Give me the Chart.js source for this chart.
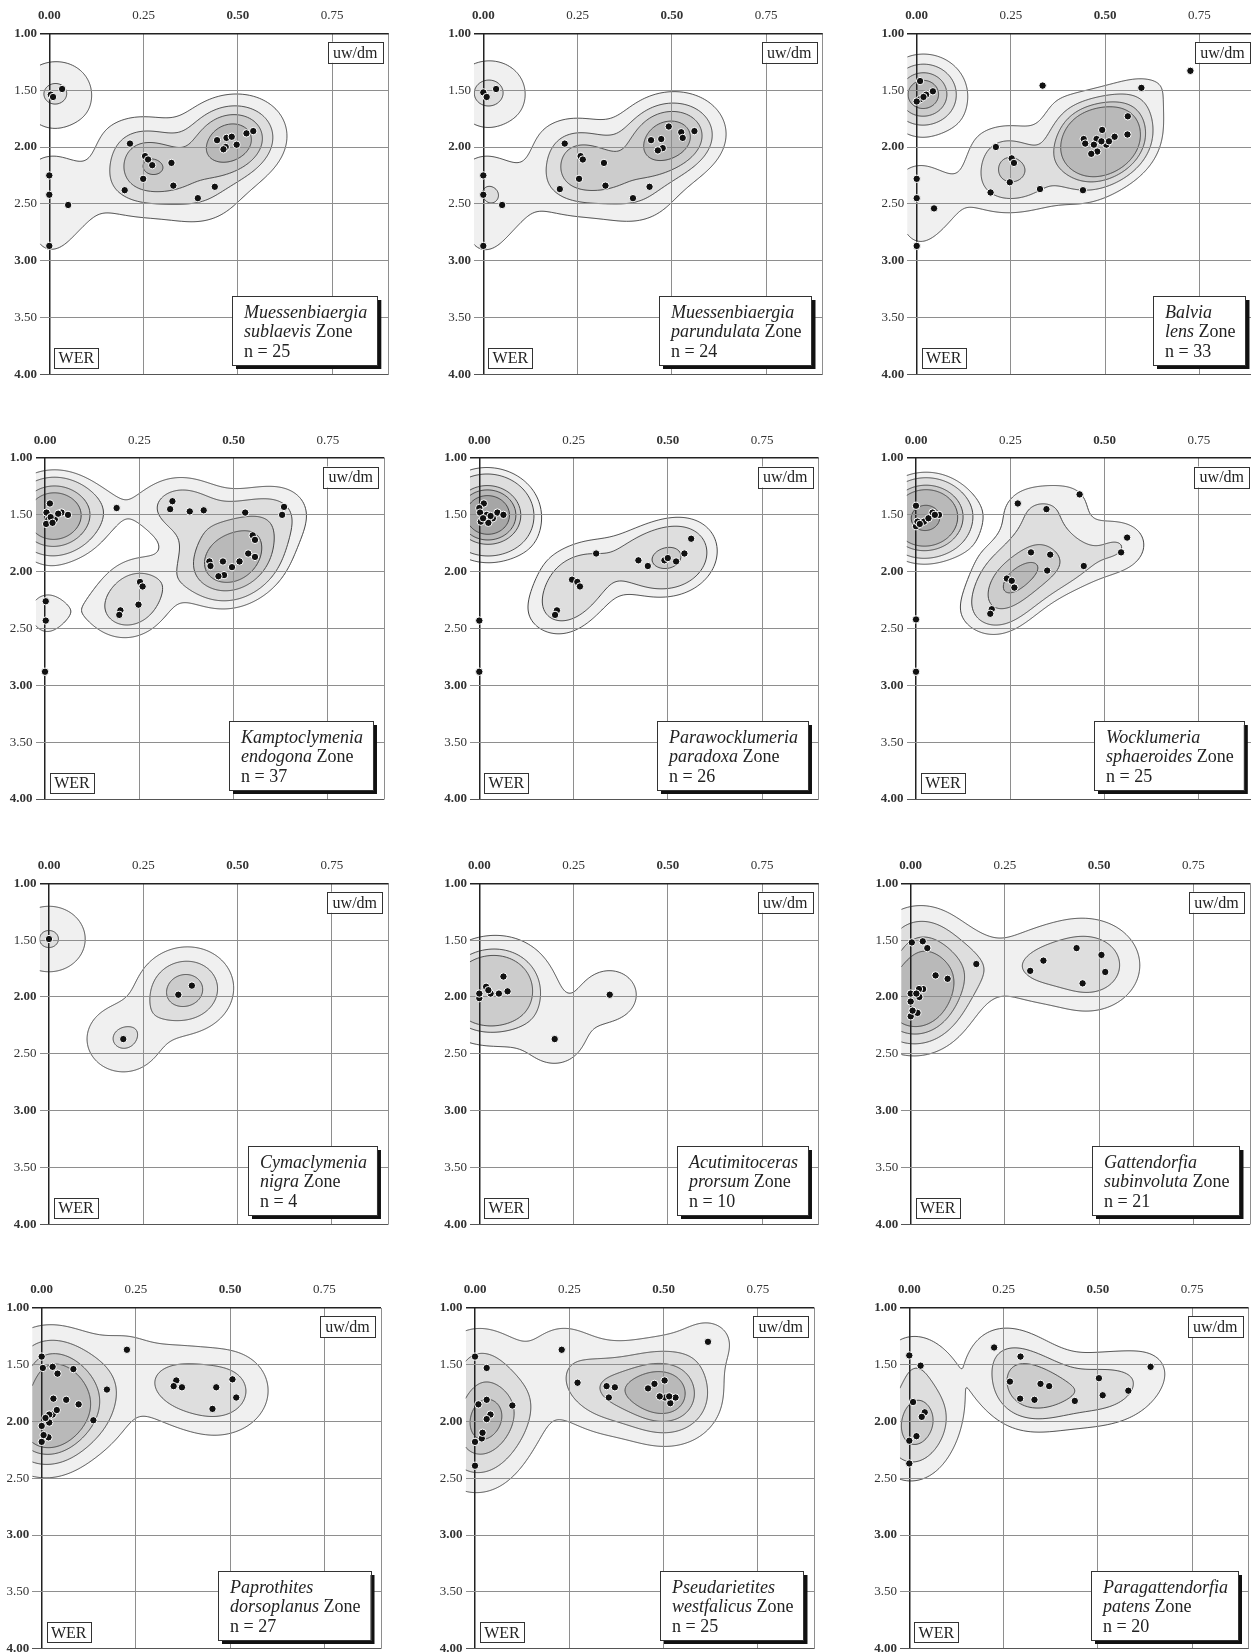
<!DOCTYPE html>
<html>
<head>
<meta charset="utf-8">
<title>uw/dm - WER density plots by zone</title>
<script src="https://cdn.jsdelivr.net/npm/chart.js@4.4.1/dist/chart.umd.min.js"></script>
<style>
  html, body { margin: 0; padding: 0; background: #fff; overflow: hidden; }
  body { width: 1251px; height: 1652px; position: relative; }
  canvas { position: absolute; }
</style>
</head>
<body>
<script>
// axis ticks
const xTicks = [0, 0.25, 0.5, 0.75];
const yTicks = [1, 1.5, 2, 2.5, 3, 3.5, 4];
const xName = 'uw/dm';
const yName = 'WER';

// zone labels
const genera = ['Muessenbiaergia', 'Muessenbiaergia', 'Balvia', 'Kamptoclymenia', 'Parawocklumeria', 'Wocklumeria',
  'Cymaclymenia', 'Acutimitoceras', 'Gattendorfia', 'Paprothites', 'Pseudarietites', 'Paragattendorfia'];
const species = ['sublaevis', 'parundulata', 'lens', 'endogona', 'paradoxa', 'sphaeroides',
  'nigra', 'prorsum', 'subinvoluta', 'dorsoplanus', 'westfalicus', 'patens'];
const sampleSizes = [25, 24, 33, 37, 26, 25, 4, 10, 21, 27, 25, 20];

// measured specimens [uw/dm, WER]
const sublaevis = [[0.004,1.54],[0.01,1.56],[0.034,1.49],[0,2.25],[0,2.42],[0.05,2.51],[0,2.87],[0.214,1.97],
  [0.254,2.08],[0.262,2.11],[0.273,2.16],[0.249,2.28],[0.324,2.14],[0.329,2.34],[0.2,2.38],[0.394,2.45],[0.439,2.35],
  [0.445,1.94],[0.47,1.92],[0.484,1.91],[0.468,2.0],[0.462,2.02],[0.497,1.98],[0.523,1.88],[0.541,1.86]];
const parundulata = [[0,1.52],[0.009,1.56],[0.034,1.49],[0,2.25],[0,2.42],[0.05,2.51],[0,2.87],[0.216,1.97],
  [0.258,2.08],[0.264,2.11],[0.32,2.14],[0.254,2.28],[0.324,2.34],[0.203,2.37],[0.397,2.45],[0.441,2.35],
  [0.445,1.94],[0.472,1.93],[0.492,1.82],[0.476,2.01],[0.463,2.03],[0.525,1.87],[0.529,1.92],[0.56,1.86]];
const lens = [[0.009,1.42],[0.043,1.51],[0.025,1.54],[0.009,1.58],[0,1.6],[0.018,1.56],
  [0.334,1.46],[0.726,1.33],[0.596,1.48],[0.56,1.73],[0.559,1.89],[0.492,1.85],[0.525,1.91],[0.443,1.93],
  [0.447,1.97],[0.477,1.93],[0.503,1.98],[0.479,2.04],[0.463,2.06],[0.49,1.95],[0.51,1.95],[0.47,1.98],
  [0.441,2.38],[0.21,2.0],[0.252,2.1],[0.258,2.14],[0.247,2.31],[0.196,2.4],[0.327,2.37],
  [0,2.28],[0,2.45],[0.046,2.54],[0,2.87]];
const endogona = [[0.013,1.4],[0.004,1.48],[0.009,1.54],[0.026,1.54],[0.044,1.48],[0.061,1.5],[0.003,1.58],
  [0.035,1.49],[0.015,1.52],[0.02,1.57],[0.19,1.44],[0.338,1.38],[0.332,1.45],[0.384,1.47],[0.421,1.46],
  [0.531,1.48],[0.634,1.43],[0.629,1.5],[0.551,1.68],[0.557,1.72],[0.539,1.84],[0.557,1.87],[0.516,1.91],
  [0.496,1.96],[0.472,1.91],[0.436,1.91],[0.439,1.95],[0.475,2.03],[0.46,2.04],[0.252,2.09],[0.259,2.13],
  [0.248,2.29],[0.2,2.34],[0.197,2.38],[0.002,2.26],[0.002,2.43],[0,2.88]];
const paradoxa = [[0.012,1.4],[0,1.44],[0.002,1.48],[0.048,1.48],[0.064,1.5],[0.036,1.53],[0.024,1.57],
  [0.004,1.56],[0.02,1.5],[0.01,1.53],[0.03,1.51],[0,2.43],[0,2.88],[0.31,1.84],[0.246,2.07],[0.26,2.09],
  [0.267,2.13],[0.206,2.34],[0.201,2.38],[0.422,1.9],[0.447,1.95],[0.491,1.9],[0.522,1.91],[0.544,1.84],
  [0.562,1.71],[0.5,1.88]];
const sphaeroides = [[0,1.42],[0,1.6],[0.004,1.56],[0.021,1.56],[0.033,1.53],[0.044,1.48],[0.061,1.5],
  [0.01,1.58],[0.05,1.5],[0,2.42],[0,2.88],[0.27,1.4],[0.346,1.45],[0.434,1.32],[0.56,1.7],[0.544,1.83],
  [0.445,1.95],[0.305,1.83],[0.356,1.85],[0.348,1.99],[0.241,2.06],[0.254,2.08],[0.261,2.14],[0.201,2.33],
  [0.197,2.37]];
const nigra = [[0,1.49],[0.343,1.98],[0.379,1.9],[0.197,2.37]];
const prorsum = [[0,2.01],[0.018,1.91],[0.03,1.97],[0.052,1.97],[0.064,1.82],[0.075,1.95],[0.024,1.94],
  [0,1.97],[0.2,2.37],[0.346,1.98]];
const subinvoluta = [[0.003,1.52],[0.032,1.51],[0.044,1.57],[0.174,1.71],[0.066,1.81],[0.098,1.84],[0.033,1.93],
  [0.022,1.93],[0,1.97],[0.023,2.0],[0,2.04],[0.018,2.14],[0,2.17],[0.005,2.12],[0.015,1.97],[0.317,1.77],
  [0.352,1.68],[0.44,1.57],[0.506,1.63],[0.516,1.78],[0.456,1.88]];
const dorsoplanus = [[0,1.43],[0.003,1.53],[0.029,1.52],[0.042,1.58],[0.084,1.54],[0.226,1.37],[0.173,1.72],
  [0.031,1.8],[0.065,1.81],[0.098,1.85],[0.029,1.94],[0.02,1.94],[0.137,1.99],[0.02,2.01],[0,2.04],[0.018,2.14],
  [0,2.18],[0.005,2.12],[0.01,1.97],[0.04,1.9],[0.357,1.64],[0.35,1.69],[0.372,1.7],[0.463,1.7],[0.506,1.63],
  [0.516,1.79],[0.453,1.89]];
const westfalicus = [[0,1.43],[0.031,1.53],[0.272,1.66],[0.23,1.37],[0.618,1.3],[0.009,1.85],[0.031,1.81],
  [0.099,1.86],[0.041,1.94],[0.031,1.98],[0.018,2.15],[0,2.18],[0,2.39],[0.02,2.1],[0.349,1.69],[0.371,1.7],
  [0.355,1.79],[0.459,1.71],[0.476,1.67],[0.503,1.64],[0.504,1.79],[0.518,1.84],[0.532,1.79],[0.49,1.78],
  [0.515,1.78]];
const patens = [[0,1.42],[0.03,1.51],[0.01,1.83],[0.041,1.92],[0.033,1.96],[0.019,2.13],[0,2.17],[0,2.37],
  [0.225,1.35],[0.295,1.43],[0.267,1.65],[0.294,1.8],[0.332,1.81],[0.348,1.67],[0.371,1.69],[0.439,1.82],
  [0.503,1.62],[0.513,1.77],[0.581,1.73],[0.64,1.52]];

// a spot on each density contour line [uw/dm, WER]
const sublaevisLines = [[0.112,1.52],[0.161,2.17],[0.198,2.17],[0.417,2.03]];
const parundulataLines = [[0.111,1.53],[0.167,2.23],[0.208,2.23],[0.427,2.03]];
const lensLines = [[0.3,2.56],[0.105,1.54],[0.08,1.54],[0.058,1.54]];
const endogonaLines = [[0.215,2.58],[0.35,1.97],[0.395,1.97],[0.425,1.97]];
const paradoxaLines = [[0.165,1.5],[0.171,2.17],[0.11,1.5],[0.097,1.5],[0.08,1.5]];
const sphaeroidesLines = [[0.126,2.17],[0.152,2.17],[0.192,2.17],[0.237,2.07],[0.062,1.5]];
const nigraLines = [[0.096,1.49],[0.025,1.49],[0.312,1.97]];
const prorsumLines = [[0.415,1.94],[0.162,2.0],[0.14,2.0]];
const subinvolutaLines = [[0.05,2.5],[0.05,2.39],[0.05,2.3],[0.05,2.23]];
const dorsoplanusLines = [[0.05,2.48],[0.05,2.36],[0.05,2.27],[0.05,2.21]];
const westfalicusLines = [[0.5,2.22],[0.5,2.1],[0.5,2.0],[0.5,1.93]];
const patensLines = [[0.146,1.9],[0.096,1.9],[0.063,1.98]];

const zonePoints = [sublaevis, parundulata, lens, endogona, paradoxa, sphaeroides,
  nigra, prorsum, subinvoluta, dorsoplanus, westfalicus, patens];
const zoneLines = [sublaevisLines, parundulataLines, lensLines, endogonaLines, paradoxaLines, sphaeroidesLines,
  nigraLines, prorsumLines, subinvolutaLines, dorsoplanusLines, westfalicusLines, patensLines];

// layout
const X_MIN = -0.025, X_MAX = 0.9;
const PX_X = 377, PX_Y = 113.7;
const kernelX = 0.07, kernelY = 0.21;
const shadeGray = [240, 222, 204, 185, 166];
// pixel spot of the (0.00, 1.00) corner of each panel
const corners = [
  [49.3, 33.3], [483.3, 33.3], [916.7, 33.3],
  [45, 458], [479.3, 458], [916, 458],
  [49, 883.3], [479.3, 883.3], [910.7, 883.3],
  [41.7, 1307.7], [475, 1307.7], [909.3, 1307.7]
];
const SERIF = '"Liberation Serif", "DejaVu Serif", serif';

// kernel density shading and contour lines
const densityShading = {
  id: 'densityShading',
  beforeDraw(chart, args, opts) {
    const { ctx, chartArea: a } = chart;
    const xs = chart.scales.x, ys = chart.scales.y;
    const sx = xs.getPixelForValue(kernelX) - xs.getPixelForValue(0);
    const sy = ys.getPixelForValue(1 + kernelY) - ys.getPixelForValue(1);
    const px = opts.points.map(p => xs.getPixelForValue(p[0]) - a.left);
    const py = opts.points.map(p => ys.getPixelForValue(p[1]) - a.top);
    const dens = (u, v) => px.reduce((s, _, k) =>
      s + Math.exp(-((u - px[k]) ** 2) / (2 * sx * sx) - ((v - py[k]) ** 2) / (2 * sy * sy)), 0);
    const levels = opts.lines
      .map(m => dens(xs.getPixelForValue(m[0]) - a.left, ys.getPixelForValue(m[1]) - a.top))
      .sort((p, q) => p - q);

    const W = Math.ceil(a.width) + 1, H = Math.ceil(a.height) + 1;
    const grid = new Float32Array(W * H);
    const ex = new Float32Array(W);
    for (let k = 0; k < px.length; k++) {
      for (let i = 0; i < W; i++) ex[i] = Math.exp(-((i - px[k]) ** 2) / (2 * sx * sx));
      for (let j = 0; j < H; j++) {
        const e = Math.exp(-((j - py[k]) ** 2) / (2 * sy * sy));
        if (e < 1e-5) continue;
        const row = j * W;
        for (let i = 0; i < W; i++) grid[row + i] += e * ex[i];
      }
    }

    const img = ctx.createImageData(W - 1, H - 1);
    for (let j = 0; j < H - 1; j++) {
      for (let i = 0; i < W - 1; i++) {
        const v = (grid[j * W + i] + grid[j * W + i + 1] + grid[(j + 1) * W + i] + grid[(j + 1) * W + i + 1]) / 4;
        let lv = 0;
        while (lv < levels.length && v >= levels[lv]) lv++;
        if (!lv) continue;
        const g = shadeGray[Math.min(lv, shadeGray.length) - 1];
        const o = 4 * (j * (W - 1) + i);
        img.data[o] = g; img.data[o + 1] = g; img.data[o + 2] = g; img.data[o + 3] = 255;
      }
    }
    const off = document.createElement('canvas');
    off.width = W - 1; off.height = H - 1;
    off.getContext('2d').putImageData(img, 0, 0);

    ctx.save();
    ctx.beginPath();
    ctx.rect(a.left, a.top, a.width, a.height);
    ctx.clip();
    ctx.drawImage(off, a.left, a.top);
    ctx.strokeStyle = '#474747';
    ctx.lineWidth = 1;
    levels.forEach(L => {
      ctx.beginPath();
      for (let j = 0; j < H - 1; j++) {
        for (let i = 0; i < W - 1; i++) {
          const p = grid[j * W + i], q = grid[j * W + i + 1];
          const r = grid[(j + 1) * W + i + 1], s = grid[(j + 1) * W + i];
          const bp = p >= L, bq = q >= L, br = r >= L, bs = s >= L;
          if (bp === bq && bq === br && br === bs) continue;
          const e = [];
          if (bp !== bq) e.push([i + (L - p) / (q - p), j]);
          if (bq !== br) e.push([i + 1, j + (L - q) / (r - q)]);
          if (bs !== br) e.push([i + (L - s) / (r - s), j + 1]);
          if (bp !== bs) e.push([i, j + (L - p) / (s - p)]);
          for (let k = 0; k + 1 < e.length; k += 2) {
            ctx.moveTo(a.left + e[k][0], a.top + e[k][1]);
            ctx.lineTo(a.left + e[k + 1][0], a.top + e[k + 1][1]);
          }
        }
      }
      ctx.stroke();
    });
    ctx.restore();
  }
};

function framedText(ctx, text, x, y, w, h) {
  ctx.fillStyle = '#fff';
  ctx.fillRect(x, y, w, h);
  ctx.strokeStyle = '#333';
  ctx.lineWidth = 1;
  ctx.strokeRect(Math.round(x) + 0.5, Math.round(y) + 0.5, Math.round(w), Math.round(h));
  ctx.fillStyle = '#222';
  ctx.font = '16px ' + SERIF;
  ctx.textAlign = 'center';
  ctx.textBaseline = 'middle';
  ctx.fillText(text, x + w / 2, y + h / 2 + 1);
}

// axis names and zone box
const zoneBox = {
  id: 'zoneBox',
  afterDraw(chart, args, opts) {
    const { ctx, chartArea: a } = chart;
    const x0 = chart.scales.x.getPixelForValue(0);
    ctx.save();
    framedText(ctx, xName, a.right - 61, a.top + 8.5, 55, 21);
    framedText(ctx, yName, x0 + 5, a.bottom - 26.5, 44, 20);

    const italic = 'italic 18px ' + SERIF, plain = '18px ' + SERIF;
    ctx.font = italic;
    const w1 = ctx.measureText(opts.genus).width;
    const w2a = ctx.measureText(opts.species).width;
    ctx.font = plain;
    const w2b = ctx.measureText(' Zone').width;
    const line3 = 'n = ' + opts.n;
    const w3 = ctx.measureText(line3).width;
    const bw = Math.max(w1, w2a + w2b, w3) + 22;
    const bh = 69;
    const bx = Math.round(a.right - 11 - bw), by = Math.round(a.bottom - 9 - bh);
    ctx.fillStyle = '#111';
    ctx.fillRect(bx + 4, by + 4, bw, bh);
    ctx.fillStyle = '#fff';
    ctx.fillRect(bx, by, bw, bh);
    ctx.strokeStyle = '#333';
    ctx.lineWidth = 1;
    ctx.strokeRect(bx + 0.5, by + 0.5, Math.round(bw), bh);
    ctx.fillStyle = '#222';
    ctx.textAlign = 'left';
    ctx.textBaseline = 'alphabetic';
    const tx = bx + 12;
    ctx.font = italic;
    ctx.fillText(opts.genus, tx, by + 22);
    ctx.fillText(opts.species, tx, by + 41);
    ctx.font = plain;
    ctx.fillText(' Zone', tx + w2a, by + 41);
    ctx.fillText(line3, tx, by + 61);
    ctx.restore();
  }
};

zonePoints.forEach((pts, idx) => {
  const [cx, cy] = corners[idx];
  const left = Math.round(cx - 48), top = Math.round(cy - 33.3);
  const yAxisW = cx + X_MIN * PX_X - left;
  const xAxisH = cy - top;
  const cw = 400, ch = 390;
  const canvas = document.createElement('canvas');
  canvas.width = cw; canvas.height = ch;
  canvas.style.left = left + 'px';
  canvas.style.top = top + 'px';
  canvas.style.width = cw + 'px';
  canvas.style.height = ch + 'px';
  document.body.appendChild(canvas);

  new Chart(canvas, {
    type: 'scatter',
    data: {
      datasets: [{
        data: pts.map(([x, y]) => ({ x, y })),
        pointRadius: 3.7,
        pointHoverRadius: 3.7,
        pointBackgroundColor: '#111',
        pointBorderColor: '#fff',
        pointBorderWidth: 1
      }]
    },
    options: {
      responsive: false,
      animation: false,
      events: [],
      layout: {
        padding: {
          left: 0, top: 0,
          right: cw - (yAxisW + (X_MAX - X_MIN) * PX_X),
          bottom: ch - (xAxisH + 3 * PX_Y)
        }
      },
      plugins: {
        legend: { display: false },
        tooltip: { enabled: false },
        densityShading: { points: pts, lines: zoneLines[idx] },
        zoneBox: { genus: genera[idx], species: species[idx], n: sampleSizes[idx] }
      },
      scales: {
        x: {
          type: 'linear',
          position: 'top',
          min: X_MIN,
          max: X_MAX,
          afterBuildTicks: axis => { axis.ticks = xTicks.concat([X_MAX]).map(v => ({ value: v })); },
          afterFit: axis => { axis.height = xAxisH; },
          border: { display: false },
          grid: {
            drawTicks: false,
            color: c => c.tick && c.tick.value === 0 ? '#222' : '#8e8e8e',
            lineWidth: c => c.tick && c.tick.value === 0 ? 1.5 : 1
          },
          ticks: {
            padding: 10,
            color: '#333',
            maxRotation: 0,
            autoSkip: false,
            callback: v => xTicks.includes(v) ? v.toFixed(2) : '',
            font: c => ({
              family: SERIF, size: 13,
              weight: c.tick && (c.tick.value === 0 || c.tick.value === 0.5) ? 'bold' : 'normal'
            })
          }
        },
        y: {
          type: 'linear',
          reverse: true,
          min: 1,
          max: 4,
          afterBuildTicks: axis => { axis.ticks = yTicks.map(v => ({ value: v })); },
          afterFit: axis => { axis.width = yAxisW; },
          border: { display: false },
          grid: {
            drawTicks: false,
            color: c => c.tick && c.tick.value === 1 ? '#222' : (c.tick && c.tick.value === 4 ? '#555' : '#8e8e8e'),
            lineWidth: c => c.tick && c.tick.value === 1 ? 1.5 : 1
          },
          ticks: {
            padding: 3,
            color: '#333',
            autoSkip: false,
            callback: v => v.toFixed(2),
            font: c => ({
              family: SERIF, size: 13,
              weight: c.tick && Number.isInteger(c.tick.value) ? 'bold' : 'normal'
            })
          }
        }
      }
    },
    plugins: [densityShading, zoneBox]
  });
});
</script>
</body>
</html>
